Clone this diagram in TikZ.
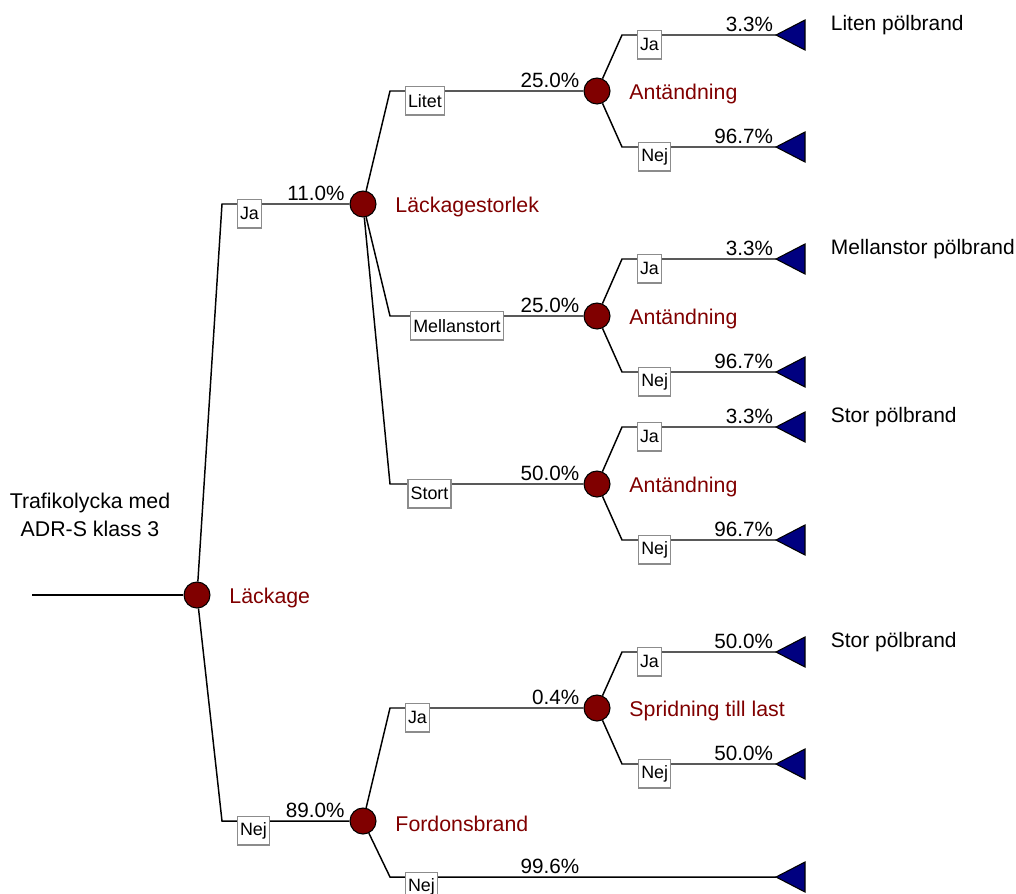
\documentclass[tikz,border=0pt]{standalone}
\usepackage{fontspec}
\setmainfont{Liberation Sans}
\definecolor{chancered}{HTML}{800000}
\definecolor{endblue}{HTML}{000080}
\definecolor{boxgray}{HTML}{8C8C8C}
\tikzset{
  chance/.style={circle, draw=black, fill=chancered, line width=0.8pt, minimum size=19.5pt, inner sep=0pt},
  branch/.style={line width=1.1pt},
  optbox/.style={draw=boxgray, fill=white, line width=1pt, anchor=north west, inner xsep=2pt, inner ysep=0pt, minimum height=21.5pt, font=\fontsize{13.4}{15}\selectfont},
  prob/.style={anchor=south east, inner sep=0pt, font=\fontsize{15.5}{18}\selectfont},
  event/.style={anchor=west, inner sep=0pt, text=chancered, font=\fontsize{16}{19}\selectfont},
  outcome/.style={anchor=west, inner sep=0pt, font=\fontsize{15.7}{19}\selectfont},
  endtri/.style={draw=black, fill=endblue, line width=0.8pt}
}
\begin{document}
\begin{tikzpicture}[x=0.75pt, y=-0.75pt]
  \useasboundingbox (0,0) rectangle (1016,893);

  % Chance nodes
  \node[chance] (lk)  at (197,595) {};
  \node[chance] (lks) at (363,204) {};
  \node[chance] (fb)  at (363,821) {};
  \node[chance] (an1) at (597,91) {};
  \node[chance] (an2) at (597,316) {};
  \node[chance] (an3) at (597,484) {};
  \node[chance] (sp)  at (597,708) {};

  % Branch corners
  \coordinate (start) at (32,595);
  \coordinate (cLkJa) at (222,204);  \coordinate (cLkNej) at (222,821);
  \coordinate (cLitet) at (390,91);  \coordinate (cMellan) at (390,316);
  \coordinate (cStort) at (390,484);
  \coordinate (cFbJa) at (390,708);  \coordinate (cFbNej) at (390,877);
  \coordinate (cA1Ja) at (622,35);   \coordinate (cA1Nej) at (622,147);
  \coordinate (cA2Ja) at (622,259);  \coordinate (cA2Nej) at (622,372);
  \coordinate (cA3Ja) at (622,427);  \coordinate (cA3Nej) at (622,540);
  \coordinate (cSpJa) at (622,652);  \coordinate (cSpNej) at (622,764);

  % End points (triangle tips)
  \coordinate (tA1Ja) at (776,35);   \coordinate (tA1Nej) at (776,147);
  \coordinate (tA2Ja) at (776,259);  \coordinate (tA2Nej) at (776,372);
  \coordinate (tA3Ja) at (776,427);  \coordinate (tA3Nej) at (776,540);
  \coordinate (tSpJa) at (776,652);  \coordinate (tSpNej) at (776,764);
  \coordinate (tFbNej) at (776,877);

  % Branches
  \draw[branch] (start) -- (lk);
  \draw[branch] (lk) -- (cLkJa) -- (lks);
  \draw[branch] (lk) -- (cLkNej) -- (fb);
  \draw[branch] (lks) -- (cLitet) -- (an1);
  \draw[branch] (lks) -- (cMellan) -- (an2);
  \draw[branch] (lks) -- (cStort) -- (an3);
  \draw[branch] (fb) -- (cFbJa) -- (sp);
  \draw[branch] (fb) -- (cFbNej) -- (tFbNej);
  \draw[branch] (an1) -- (cA1Ja) -- (tA1Ja);
  \draw[branch] (an1) -- (cA1Nej) -- (tA1Nej);
  \draw[branch] (an2) -- (cA2Ja) -- (tA2Ja);
  \draw[branch] (an2) -- (cA2Nej) -- (tA2Nej);
  \draw[branch] (an3) -- (cA3Ja) -- (tA3Ja);
  \draw[branch] (an3) -- (cA3Nej) -- (tA3Nej);
  \draw[branch] (sp) -- (cSpJa) -- (tSpJa);
  \draw[branch] (sp) -- (cSpNej) -- (tSpNej);

  % Terminal triangles
  \foreach \t in {tA1Ja,tA1Nej,tA2Ja,tA2Nej,tA3Ja,tA3Nej,tSpJa,tSpNej,tFbNej}
    \draw[endtri] (\t) -- ++(29,-15) -- ++(0,30) -- cycle;

  % Option boxes
  \node[optbox] (oLkJa)   at ([xshift=11pt,yshift=4pt]cLkJa) {Ja};
  \node[optbox] (oLkNej)  at ([xshift=11pt,yshift=4pt]cLkNej) {Nej};
  \node[optbox] (oLitet)  at ([xshift=11pt,yshift=4pt]cLitet) {Litet};
  \node[optbox] (oMellan) at ([xshift=15pt,yshift=4pt]cMellan) {Mellanstort};
  \node[optbox] (oStort)  at ([xshift=13pt,yshift=4pt]cStort) {Stort};
  \node[optbox] (oFbJa)   at ([xshift=11pt,yshift=4pt]cFbJa) {Ja};
  \node[optbox] (oFbNej)  at ([xshift=11pt,yshift=4pt]cFbNej) {Nej};
  \node[optbox] (oA1Ja)   at ([xshift=11pt,yshift=4pt]cA1Ja) {Ja};
  \node[optbox] (oA1Nej)  at ([xshift=12pt,yshift=4pt]cA1Nej) {Nej};
  \node[optbox] (oA2Ja)   at ([xshift=11pt,yshift=4pt]cA2Ja) {Ja};
  \node[optbox] (oA2Nej)  at ([xshift=12pt,yshift=4pt]cA2Nej) {Nej};
  \node[optbox] (oA3Ja)   at ([xshift=11pt,yshift=4pt]cA3Ja) {Ja};
  \node[optbox] (oA3Nej)  at ([xshift=12pt,yshift=4pt]cA3Nej) {Nej};
  \node[optbox] (oSpJa)   at ([xshift=11pt,yshift=4pt]cSpJa) {Ja};
  \node[optbox] (oSpNej)  at ([xshift=12pt,yshift=4pt]cSpNej) {Nej};

  % Probabilities
  \node[prob] at ([xshift=-3.5pt,yshift=2pt]lks.west) {11.0\%};
  \node[prob] at ([xshift=-3.5pt,yshift=2pt]fb.west) {89.0\%};
  \node[prob] at ([xshift=-3pt,yshift=2pt]an1.west) {25.0\%};
  \node[prob] at ([xshift=-3pt,yshift=2pt]an2.west) {25.0\%};
  \node[prob] at ([xshift=-3pt,yshift=2pt]an3.west) {50.0\%};
  \node[prob] at ([xshift=-3pt,yshift=2pt]sp.west) {0.4\%};
  \node[prob] at ([xshift=-3pt,yshift=2pt]an3.west |- cFbNej) {99.6\%};
  \node[prob] at ([xshift=-2pt,yshift=2pt]tA1Ja) {3.3\%};
  \node[prob] at ([xshift=-2pt,yshift=2pt]tA1Nej) {96.7\%};
  \node[prob] at ([xshift=-2pt,yshift=2pt]tA2Ja) {3.3\%};
  \node[prob] at ([xshift=-2pt,yshift=2pt]tA2Nej) {96.7\%};
  \node[prob] at ([xshift=-2pt,yshift=2pt]tA3Ja) {3.3\%};
  \node[prob] at ([xshift=-2pt,yshift=2pt]tA3Nej) {96.7\%};
  \node[prob] at ([xshift=-2pt,yshift=2pt]tSpJa) {50.0\%};
  \node[prob] at ([xshift=-2pt,yshift=2pt]tSpNej) {50.0\%};

  % Event names
  \node[event] at ([xshift=14pt,yshift=-2.5pt]lk.east) {Läckage};
  \node[event] at ([xshift=14pt,yshift=-2.5pt]lks.east) {Läckagestorlek};
  \node[event] at ([xshift=14pt,yshift=-2.5pt]fb.east) {Fordonsbrand};
  \node[event] at ([xshift=14pt,yshift=-2.5pt]an1.east) {Antändning};
  \node[event] at ([xshift=14pt,yshift=-2.5pt]an2.east) {Antändning};
  \node[event] at ([xshift=14pt,yshift=-2.5pt]an3.east) {Antändning};
  \node[event] at ([xshift=14pt,yshift=-2.5pt]sp.east) {Spridning till last};

  % Outcomes
  \node[outcome] at ([xshift=41pt,yshift=7.5pt]tA1Ja) {Liten pölbrand};
  \node[outcome] at ([xshift=41pt,yshift=7.5pt]tA2Ja) {Mellanstor pölbrand};
  \node[outcome] at ([xshift=41pt,yshift=7.5pt]tA3Ja) {Stor pölbrand};
  \node[outcome] at ([xshift=41pt,yshift=7.5pt]tSpJa) {Stor pölbrand};

  % Initiating event
  \node[align=center, inner sep=0pt, font=\fontsize{16}{21}\selectfont] (init) at (90,515) {Trafikolycka med\\ADR-S klass 3};
\end{tikzpicture}
\end{document}
